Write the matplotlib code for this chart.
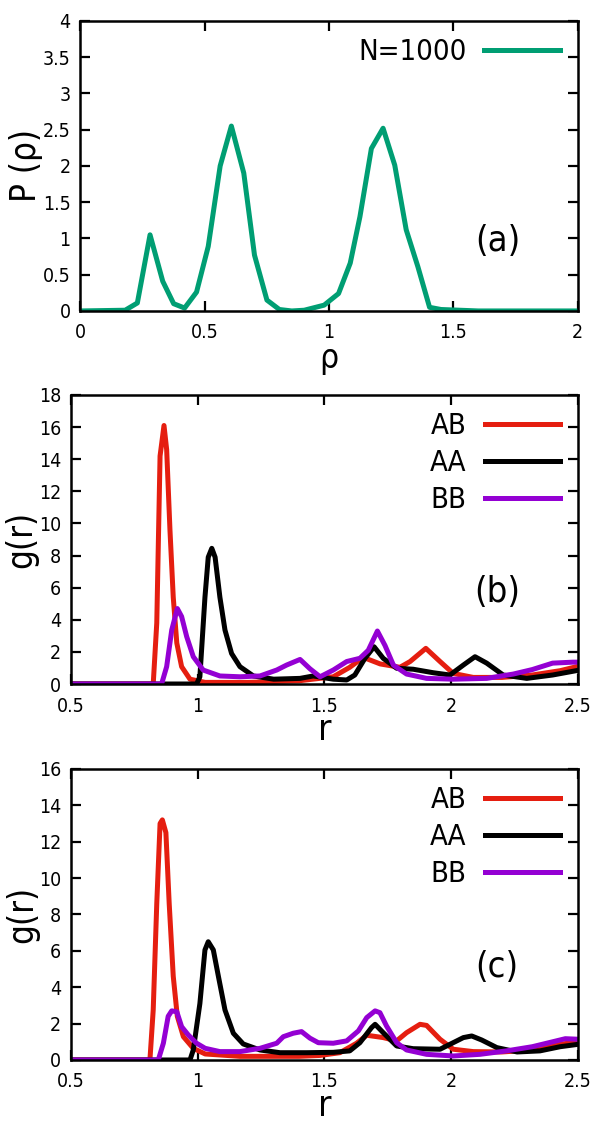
import numpy as np
import matplotlib
matplotlib.use('Agg')
import matplotlib.pyplot as plt

# ============ Data ============
# (a) P(rho)
rho = [0.0, 0.18, 0.229, 0.28, 0.331, 0.375, 0.419, 0.467, 0.514, 0.562, 0.607,
       0.657, 0.70, 0.75, 0.80, 0.85, 0.90, 0.98, 1.038, 1.085, 1.124, 1.17,
       1.217, 1.264, 1.31, 1.357, 1.404, 1.45, 1.6, 1.8, 2.0]
p_rho = [0.0, 0.01, 0.11, 1.05, 0.41, 0.1, 0.04, 0.26, 0.89, 2.0, 2.55,
         1.9, 0.77, 0.15, 0.02, 0.0, 0.01, 0.08, 0.24, 0.66, 1.3, 2.24,
         2.52, 2.01, 1.12, 0.61, 0.05, 0.02, 0.0, 0.0, 0.0]

# (b) g(r)
r_ab_b = [0.5, 0.825, 0.839, 0.852, 0.8675, 0.878, 0.891, 0.904, 0.918, 0.937, 0.97,
          1.03, 1.2, 1.4, 1.535, 1.60, 1.653, 1.72, 1.798, 1.838, 1.90, 1.956,
          2.008, 2.087, 2.2, 2.32, 2.43, 2.5]
g_ab_b = [0.0, 0.0, 3.8, 14.2, 16.1, 14.6, 9.6, 5.4, 2.55, 1.08, 0.3,
          0.1, 0.1, 0.2, 0.45, 1.04, 1.66, 1.25, 1.04, 1.4, 2.22, 1.4,
          0.66, 0.41, 0.41, 0.56, 0.83, 1.1]
r_aa_b = [0.5, 0.996, 1.009, 1.029, 1.042, 1.056, 1.069, 1.088, 1.108, 1.134, 1.167,
          1.22, 1.3, 1.404, 1.456, 1.535, 1.588, 1.62, 1.66, 1.696, 1.732, 1.785,
          1.85, 1.93, 1.995, 2.048, 2.094, 2.14, 2.205, 2.298, 2.40, 2.5]
g_aa_b = [0.0, 0.0, 0.45, 5.4, 7.9, 8.45, 7.9, 5.4, 3.36, 1.9, 1.08,
          0.5, 0.3, 0.35, 0.5, 0.3, 0.25, 0.56, 1.6, 2.32, 1.6, 0.98,
          0.92, 0.7, 0.56, 1.18, 1.7, 1.3, 0.56, 0.35, 0.56, 0.85]
r_bb_b = [0.5, 0.858, 0.878, 0.898, 0.92, 0.937, 0.957, 0.983, 1.022, 1.088, 1.167,
          1.246, 1.312, 1.351, 1.404, 1.443, 1.483, 1.535, 1.588, 1.64, 1.673, 1.709,
          1.739, 1.772, 1.824, 1.903, 2.008, 2.14, 2.245, 2.32, 2.40, 2.48, 2.5]
g_bb_b = [0.0, 0.0, 1.08, 3.36, 4.7, 4.2, 2.95, 1.7, 0.87, 0.5, 0.45,
          0.5, 0.87, 1.18, 1.53, 0.95, 0.45, 0.87, 1.4, 1.6, 2.1, 3.3,
          2.4, 1.18, 0.62, 0.35, 0.3, 0.35, 0.62, 0.9, 1.3, 1.36, 1.36]

# (c) g(r)
r_ab_c = [0.5, 0.812, 0.825, 0.839, 0.852, 0.861, 0.875, 0.888, 0.904, 0.92, 0.944,
          0.983, 1.03, 1.167, 1.4, 1.483, 1.561, 1.627, 1.667, 1.732, 1.785, 1.824,
          1.877, 1.903, 1.956, 2.008, 2.087, 2.2, 2.32, 2.43, 2.5]
g_ab_c = [0.0, 0.0, 2.75, 8.6, 13.0, 13.2, 12.5, 8.6, 4.6, 2.4, 1.28,
          0.64, 0.33, 0.2, 0.2, 0.25, 0.4, 0.92, 1.36, 1.23, 1.05, 1.5,
          1.96, 1.9, 1.14, 0.59, 0.46, 0.44, 0.55, 0.86, 1.0]
r_aa_c = [0.5, 0.97, 0.983, 1.009, 1.029, 1.042, 1.062, 1.082, 1.108, 1.141, 1.18,
          1.246, 1.325, 1.43, 1.535, 1.60, 1.64, 1.686, 1.70, 1.732, 1.785, 1.85,
          1.956, 1.995, 2.048, 2.081, 2.12, 2.18, 2.26, 2.35, 2.43, 2.5]
g_aa_c = [0.0, 0.0, 0.55, 3.1, 6.05, 6.5, 6.05, 4.6, 2.75, 1.47, 0.88,
          0.55, 0.4, 0.4, 0.42, 0.5, 0.95, 1.78, 1.96, 1.5, 0.77, 0.62,
          0.59, 0.86, 1.23, 1.32, 1.1, 0.68, 0.44, 0.5, 0.73, 0.86]
r_bb_c = [0.5, 0.845, 0.865, 0.884, 0.898, 0.918, 0.937, 0.963, 0.996, 1.03, 1.088,
          1.167, 1.246, 1.312, 1.338, 1.377, 1.41, 1.443, 1.476, 1.535, 1.588, 1.634,
          1.667, 1.70, 1.719, 1.745, 1.785, 1.824, 1.903, 2.008, 2.113, 2.218, 2.32,
          2.40, 2.45, 2.5]
g_bb_c = [0.0, 0.0, 0.92, 2.4, 2.7, 2.65, 1.83, 1.38, 0.92, 0.64, 0.46,
          0.46, 0.64, 0.92, 1.28, 1.47, 1.56, 1.2, 0.95, 0.92, 1.05, 1.6,
          2.33, 2.7, 2.6, 1.87, 0.95, 0.55, 0.31, 0.22, 0.31, 0.5, 0.73,
          1.0, 1.17, 1.14]

labels = ['AB', 'AA', 'BB']
c_green = '#009e73'
c_red = '#e51e10'
c_black = '#000000'
c_purple = '#9400d3'

plt.rcParams['font.family'] = ['DejaVu Sans']
plt.rcParams['font.stretch'] = 'condensed'

fig = plt.figure(figsize=(6, 11.25), dpi=100)
ax_a = fig.add_axes([0.134, 0.7236, 0.829, 0.2578])
ax_b = fig.add_axes([0.118, 0.392, 0.8453, 0.2569])
ax_c = fig.add_axes([0.118, 0.0578, 0.8453, 0.2587])

lw = 3.6


def style(ax):
    for s in ax.spines.values():
        s.set_linewidth(1.8)
    ax.tick_params(direction='in', length=7, width=1.6, top=True, right=True,
                   labelsize=14)
    ax.tick_params(axis='x', pad=9)
    ax.tick_params(axis='y', pad=7)


leg_kw = dict(loc='upper right', frameon=False, markerfirst=False, fontsize=21,
              handlelength=2.6, handletextpad=0.62, borderaxespad=0.2,
              labelspacing=0.3)

# ---- (a) ----
ax_a.plot(rho, p_rho, color=c_green, lw=lw, label='N=1000')
ax_a.set_xlim(0, 2)
ax_a.set_ylim(0, 4)
ax_a.set_xticks([0, 0.5, 1, 1.5, 2])
ax_a.set_xticklabels(['0', '0.5', '1', '1.5', '2'])
ax_a.set_yticks([0, 0.5, 1, 1.5, 2, 2.5, 3, 3.5, 4])
ax_a.set_yticklabels(['0', '0.5', '1', '1.5', '2', '2.5', '3', '3.5', '4'])
ax_a.set_xlabel('ρ', fontsize=24, labelpad=0)
ax_a.set_ylabel('P (ρ)', fontsize=25, labelpad=0)
ax_a.text(0.84, 0.24, '(a)', transform=ax_a.transAxes, fontsize=26,
          ha='center', va='center')
style(ax_a)
ax_a.legend(**leg_kw)

# ---- (b), (c) ----
panels = [(ax_b, r_ab_b, g_ab_b, r_aa_b, g_aa_b, r_bb_b, g_bb_b, 18, '(b)'),
          (ax_c, r_ab_c, g_ab_c, r_aa_c, g_aa_c, r_bb_c, g_bb_c, 16, '(c)')]
for ax, rab, gab, raa, gaa, rbb, gbb, ymax, tag in panels:
    ax.plot(rab, gab, color=c_red, lw=lw, label=labels[0])
    ax.plot(raa, gaa, color=c_black, lw=lw, label=labels[1])
    ax.plot(rbb, gbb, color=c_purple, lw=lw, label=labels[2])
    ax.set_xlim(0.5, 2.5)
    ax.set_ylim(0, ymax)
    ax.set_xticks([0.5, 1, 1.5, 2, 2.5])
    ax.set_xticklabels(['0.5', '1', '1.5', '2', '2.5'])
    ax.set_yticks(np.arange(0, ymax + 1, 2))
    ax.set_xlabel('r', fontsize=26, labelpad=-2)
    ax.set_ylabel('g(r)', fontsize=25, labelpad=0)
    ax.text(0.84, 0.32, tag, transform=ax.transAxes, fontsize=26,
            ha='center', va='center')
    style(ax)
    ax.legend(**leg_kw)

fig.savefig('out.png', dpi=100)
